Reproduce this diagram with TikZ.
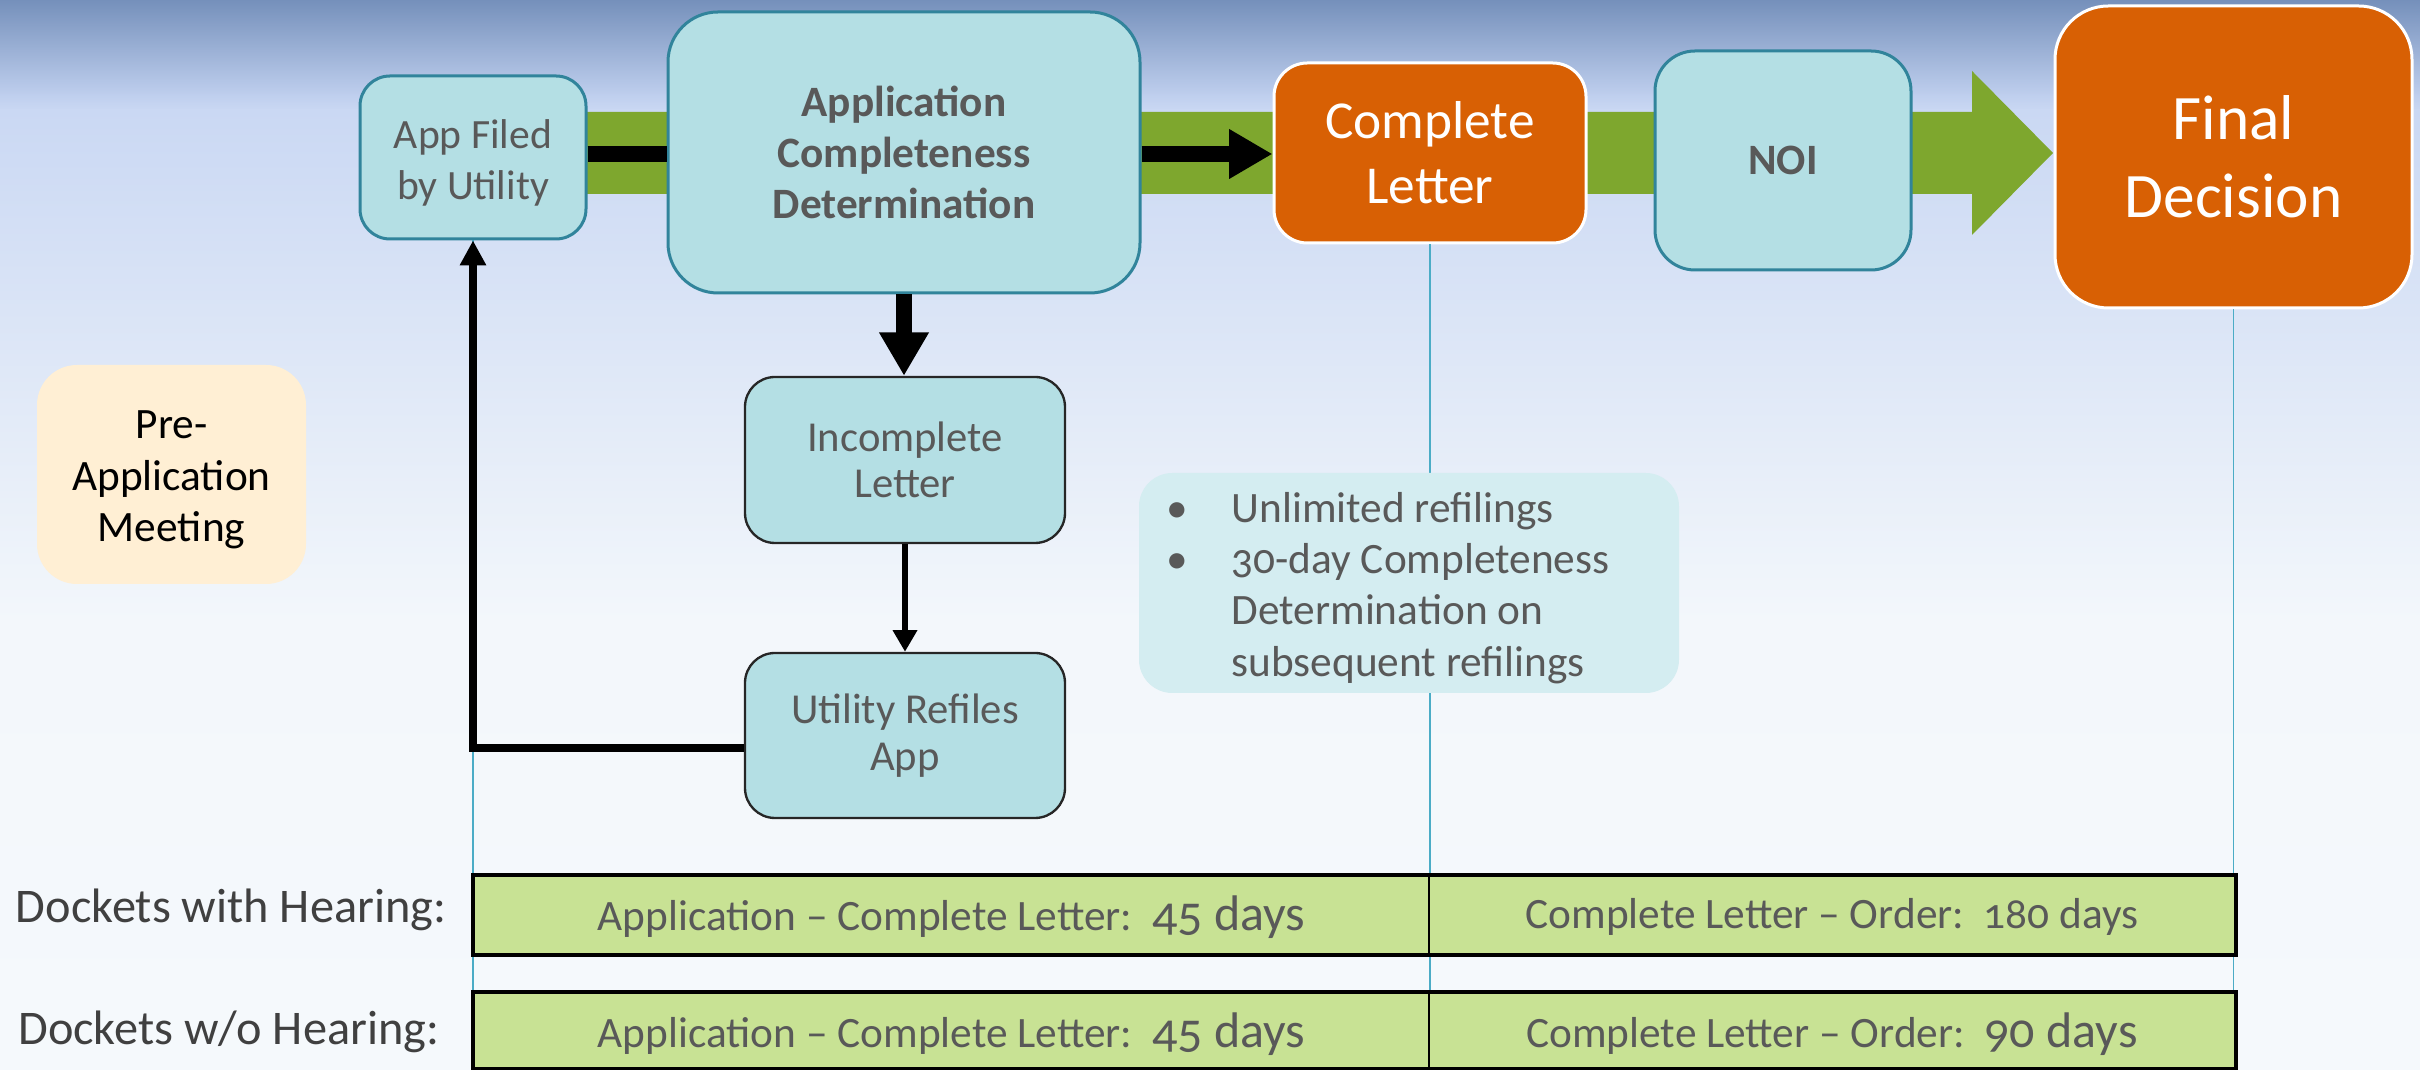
\documentclass[tikz,border=0pt]{standalone}
\usepackage{fontspec}
\setmainfont{Carlito}[Numbers=OldStyle]
\usetikzlibrary{arrows.meta}
\definecolor{tealfill}{RGB}{180,223,228}
\definecolor{tealline}{RGB}{49,132,155}
\definecolor{orangefill}{RGB}{216,96,4}
\definecolor{bandgreen}{RGB}{126,167,46}
\definecolor{cellgreen}{RGB}{200,226,148}
\definecolor{notefill}{RGB}{212,237,241}
\definecolor{prefill}{RGB}{255,239,212}
\definecolor{txtgray}{RGB}{89,89,89}
\definecolor{lblgray}{RGB}{64,64,64}
\definecolor{guide}{RGB}{75,172,198}
\definecolor{bg0}{RGB}{117,144,187}
\definecolor{bg1}{RGB}{191,207,238}
\definecolor{bg2}{RGB}{202,216,243}
\definecolor{bg3}{RGB}{243,247,251}
\definecolor{bg4}{RGB}{245,249,252}
\begin{document}
\begin{tikzpicture}[x=0.3pt,y=-0.3pt,
  tealbox/.style={draw=tealline, fill=tealfill, line width=0.9pt, inner sep=0pt, align=center, text=txtgray},
  darkbox/.style={draw=black!85, fill=tealfill, line width=0.7pt, inner sep=0pt, align=center, text=txtgray, rounded corners=9pt},
  orangebox/.style={draw=white, fill=orangefill, line width=0.9pt, inner sep=0pt, align=center, text=white},
  cellbox/.style={draw=black, fill=cellgreen, line width=0.5pt, inner sep=0pt, text=txtgray, font=\fontsize{13}{15}\selectfont},
  celltext/.style={inner sep=0pt, text=txtgray, font=\fontsize{13}{15}\selectfont},
  rowlabel/.style={anchor=east, inner sep=0pt, text=lblgray, font=\fontsize{14.5}{17}\selectfont},
  guideline/.style={draw=guide, line width=0.45pt},
  bigarrow/.style={line width=4.8pt, -{Triangle[length=13pt,width=14pt]}},
  thinarrow/.style={line width=2pt, -{Triangle[length=6.5pt,width=7pt]}}
]
\useasboundingbox (0,0) rectangle (2420,1070);
% background
\shade[top color=bg0, bottom color=bg1] (0,0) rectangle (2420,96);
\shade[top color=bg1, bottom color=bg2] (0,95) rectangle (2420,111);
\shade[top color=bg2, bottom color=bg3] (0,110) rectangle (2420,621);
\shade[top color=bg3, bottom color=bg4] (0,620) rectangle (2420,1070);
% green band arrow
\fill[bandgreen] (470,112) -- (1972,112) -- (1972,71) -- (2053,153) -- (1972,235) -- (1972,194) -- (470,194) -- cycle;
\coordinate (bottom) at (0,1070);
\coordinate (bandy) at (0,154);
\coordinate (ret) at (0,748);
% boxes
\node[tealbox, rounded corners=9pt, minimum width=67.8pt, minimum height=48.9pt] (app) at (473,157.5) {};
\node[inner sep=0pt, align=center, text=txtgray, font=\fontsize{12.5}{15.3}\selectfont] (apptext) at ([yshift=-1.5pt]app.center) {App Filed\\by Utility};
\node[tealbox, rounded corners=15pt, minimum width=141.6pt, minimum height=84.3pt, font=\bfseries\fontsize{13}{15.2}\selectfont] (acd) at (904,152.5) {Application\\Completeness\\Determination};
\node[orangebox, rounded corners=10pt, minimum width=93.6pt, minimum height=54pt, font=\fontsize{16}{19.5}\selectfont] (cl) at (1430,153) {Complete\\Letter};
\node[tealbox, rounded corners=12pt, minimum width=76.8pt, minimum height=65.7pt, font=\bfseries\fontsize{13}{15}\selectfont] (noi) at (1783,160.5) {NOI};
\node[orangebox, rounded corners=16pt, minimum width=107.1pt, minimum height=90.6pt, font=\fontsize{19}{23.5}\selectfont] (fd) at (2233.5,157) {Final\\Decision};
% guide lines
\draw[guideline] (app.south) -- (app.south |- bottom);
\draw[guideline] (cl.south) -- (cl.south |- bottom);
\draw[guideline] (fd.south) -- (fd.south |- bottom);
% lower boxes
\node[darkbox, minimum width=96pt, minimum height=49.8pt, font=\fontsize{12.8}{14}\selectfont] (inc) at (905,460) {Incomplete\\Letter};
\node[darkbox, minimum width=96pt, minimum height=49.5pt, font=\fontsize{12.8}{14}\selectfont] (ref) at (905,735.5) {Utility Refiles\\App};
\node[fill=prefill, rounded corners=12pt, inner sep=0pt, minimum width=80.7pt, minimum height=65.7pt] (pre) at (171.5,474.5) {};
\node[inner sep=0pt, align=center, text=black, font=\fontsize{13}{15.5}\selectfont] (pretext) at ([yshift=-1.6pt]pre.center) {Pre-\\Application\\Meeting};
\node[fill=notefill, rounded corners=10pt, inner sep=0pt, minimum width=162pt, minimum height=66pt] (note) at (1409,583) {};
\node[anchor=west, inner sep=0pt, align=left, text=txtgray, font=\fontsize{13}{15.4}\selectfont] (notetext) at (1166,588)
 {\makebox[19.5pt][l]{\textbullet}Unlimited refilings\\
  \makebox[19.5pt][l]{\textbullet}30-day Completeness\\
  \makebox[19.5pt][l]{}Determination on\\
  \makebox[19.5pt][l]{}subsequent refilings};
% connectors
\draw[line width=4.8pt] (app.east |- bandy) -- (acd.west |- bandy);
\draw[bigarrow] (acd.east |- bandy) -- (cl.west |- bandy);
\draw[bigarrow] (acd.south) -- (acd.south |- inc.north);
\draw[thinarrow] (inc.south) -- (inc.south |- ref.north);
\draw[line width=2.2pt, -{Triangle[length=7.5pt,width=7.5pt]}] (ref.west |- ret) -| (app.south);
% bottom table
\node[cellbox, minimum width=286.5pt, minimum height=23.4pt] (c11) at (951.5,915) {};
\node[cellbox, minimum width=241.8pt, minimum height=23.4pt] (c12) at (1832,915) {};
\node[cellbox, minimum width=286.5pt, minimum height=22.5pt] (c21) at (951.5,1030.5) {};
\node[cellbox, minimum width=241.8pt, minimum height=22.5pt] (c22) at (1832,1030.5) {};
\node[celltext] (t11) at ([yshift=-0.6pt]c11.center) {Application -- Complete Letter:\ \ {\fontsize{15}{15}\selectfont 45 days}};
\node[celltext] (t12) at ([yshift=-0.6pt]c12.center) {Complete Letter -- Order:\ \ 180 days};
\node[celltext] (t21) at ([yshift=-1.2pt]c21.center) {Application -- Complete Letter:\ \ {\fontsize{15}{15}\selectfont 45 days}};
\node[celltext] (t22) at ([yshift=-1.2pt]c22.center) {Complete Letter -- Order:\ \ {\fontsize{15}{15}\selectfont 90 days}};
\draw[line width=1.1pt] (c11.north west) rectangle (c12.south east);
\draw[line width=1.1pt] (c21.north west) rectangle (c22.south east);
\node[rowlabel] (lab1) at (447,910) {Dockets with Hearing:};
\node[rowlabel] (lab2) at (440,1032) {Dockets w/o Hearing:};
\end{tikzpicture}
\end{document}
